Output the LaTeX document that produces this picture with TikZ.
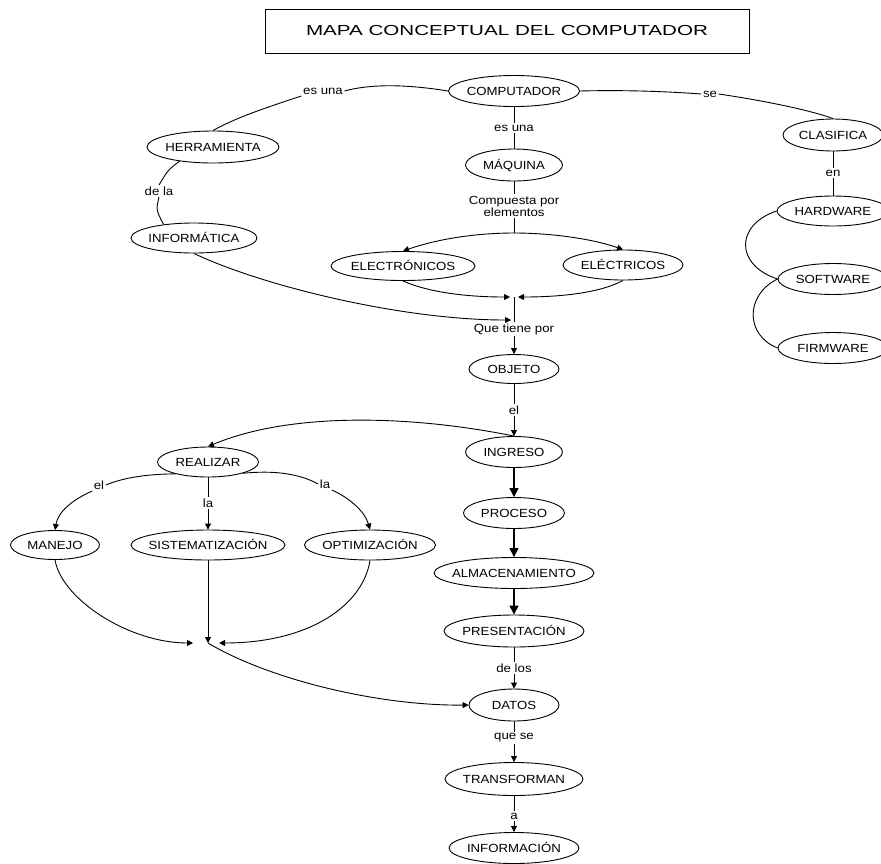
\documentclass[tikz,border=0pt]{standalone}
\usepackage{fontspec}
\setmainfont{Liberation Sans}
\newfontfamily\mapfont[FakeStretch=1.12]{Liberation Sans}
\newfontfamily\headfont[FakeStretch=1.42]{Liberation Sans}
\usetikzlibrary{shapes.geometric,arrows.meta}

\tikzset{
  concept/.style={ellipse, draw, line width=0.9pt, inner sep=0pt,
    minimum height=31pt, text height=8.3pt, text depth=0pt,
    font=\mapfont\fontsize{11.8}{13}\selectfont},
  link/.style={inner sep=1.5pt, align=center,
    font=\mapfont\fontsize{11.8}{12}\selectfont},
  conn/.style={line width=0.9pt},
  arr/.style={conn, -{Triangle[length=6pt,width=6pt]}},
  flow/.style={line width=1.3pt, -{Triangle[length=9pt,width=9pt]}},
}
% zero-width text so the ellipse size comes only from minimum width/height
\newcommand{\ctext}[1]{\makebox[0pt]{#1}}

\begin{document}
\begin{tikzpicture}[x=1pt,y=-1pt]
\useasboundingbox (0,0) rectangle (881,863);

% title
\node[draw, line width=0.9pt, minimum width=484pt, minimum height=44pt, inner sep=0pt]
  (title) at (507,31) {\headfont\fontsize{14.5}{16}\selectfont MAPA CONCEPTUAL DEL COMPUTADOR};

% concepts
\node[concept, minimum width=131pt] (comp)  at (514,91)  {\ctext{COMPUTADOR}};
\node[concept, minimum width=97pt, minimum height=32pt]  (maq)   at (514,165) {\ctext{MÁQUINA}};
\node[concept, minimum width=132pt, minimum height=32pt] (herr)  at (213,147) {\ctext{HERRAMIENTA}};
\node[concept, minimum width=126pt, minimum height=30pt] (info)  at (194,238) {\ctext{INFORMÁTICA}};
\node[concept, minimum width=100pt, minimum height=32pt] (clas)  at (833,135) {\ctext{CLASIFICA}};
\node[concept, minimum width=112pt, minimum height=30pt] (hard)  at (833,211) {\ctext{HARDWARE}};
\node[concept, minimum width=110pt] (soft)  at (833,279) {\ctext{SOFTWARE}};
\node[concept, minimum width=110pt] (firm)  at (833,348) {\ctext{FIRMWARE}};
\node[concept, minimum width=144pt, minimum height=29pt] (elec)  at (403,266) {\ctext{ELECTRÓNICOS}};
\node[concept, minimum width=120pt, minimum height=30pt] (elect) at (623,265) {\ctext{ELÉCTRICOS}};
\node[concept, minimum width=90pt, minimum height=29pt]  (obj)   at (514,369) {\ctext{OBJETO}};
\node[concept, minimum width=97pt]  (ing)   at (514,452) {\ctext{INGRESO}};
\node[concept, minimum width=101pt, minimum height=30pt] (real)  at (208,462) {\ctext{REALIZAR}};
\node[concept, minimum width=89pt, minimum height=29pt]  (man)   at (55,545)  {\ctext{MANEJO}};
\node[concept, minimum width=154pt, minimum height=30pt] (sist)  at (208,545) {\ctext{SISTEMATIZACIÓN}};
\node[concept, minimum width=131pt, minimum height=30pt] (opt)   at (370,545) {\ctext{OPTIMIZACIÓN}};
\node[concept, minimum width=101pt] (proc)  at (514,513) {\ctext{PROCESO}};
\node[concept, minimum width=160pt] (alm)   at (514,573) {\ctext{ALMACENAMIENTO}};
\node[concept, minimum width=140pt, minimum height=32pt] (pres)  at (514,631) {\ctext{PRESENTACIÓN}};
\node[concept, minimum width=90pt, minimum height=32pt]  (datos) at (514,705) {\ctext{DATOS}};
\node[concept, minimum width=138pt, minimum height=33pt] (trans) at (514,779) {\ctext{TRANSFORMAN}};
\node[concept, minimum width=130pt] (infor) at (514,848) {\ctext{INFORMACIÓN}};

% linking words
\node[link] (l1)  at (323,91)  {es una};
\node[link] (l2)  at (514,128) {es una};
\node[link] (l3)  at (159,191) {de la};
\node[link] (l4)  at (710,94)  {se};
\node[link] (l5)  at (833,173) {en};
\node[link] (l6)  at (514,206) {Compuesta por\\elementos};
\node[link] (l7)  at (514,329) {Que tiene por};
\node[link] (l8)  at (514,410) {el};
\node[link] (l9)  at (99,485)  {el};
\node[link] (l10) at (208,503) {la};
\node[link] (l11) at (325,484) {la};
\node[link] (l12) at (514,668) {de los};
\node[link] (l13) at (514,738) {que se};
\node[link] (l14) at (514,816) {a};

% junction points
\coordinate (split) at (514,233);
\coordinate (j1) at (514,297);
\coordinate (j2) at (514,320);
\coordinate (j3) at (208,643);

% computador - herramienta - informatica
\draw[conn] (comp.west) .. controls (405,84) and (370,84) .. (l1.east);
\draw[conn] (l1.south west) .. controls (265,108) and (235,118) .. (herr.north);
\draw[conn] (herr.203) .. controls (168,170) .. (l3.north);
\draw[conn] (l3.south) .. controls (156,210) .. (info.156);

% computador - maquina
\draw[conn] (comp) -- (l2);
\draw[conn] (l2) -- (maq);

% computador - clasifica - hardware/software/firmware
\draw[conn] (comp.east) .. controls (620,90) and (660,91) .. (l4.west);
\draw[conn] (l4.east) .. controls (760,100) and (810,110) .. (clas.north);
\draw[conn] (clas) -- (l5);
\draw[conn] (l5) -- (hard);
\draw[conn] (hard.west) .. controls (735,225) and (735,265) .. (soft.west);
\draw[conn] (soft.west) .. controls (745,295) and (745,335) .. (firm.west);

% maquina - elementos
\draw[conn] (maq) -- (l6);
\draw[conn] (l6) -- (split);
\draw[arr] (split) .. controls (480,233) and (440,238) .. (elec.north);
\draw[arr] (split) .. controls (548,233) and (590,238) .. (elect.north);
\draw[arr] (elec.south) .. controls (430,293) and (470,297) .. ([xshift=-4pt]j1);
\draw[arr] (elect.south) .. controls (600,293) and (560,297) .. ([xshift=4pt]j1);
\draw[arr] (info.south) .. controls (260,285) and (400,320) .. ([xshift=-3pt]j2);
\draw[conn] (j1) -- (l7);
\draw[arr] (l7) -- (obj);
\draw[conn] (obj) -- (l8);
\draw[arr] (l8) -- (ing);

% ingreso - realizar
\draw[arr] (ing.north) .. controls (410,415) and (290,412) .. (real.north);
\draw[conn] (real.200) .. controls (150,474) and (125,477) .. (l9.east);
\draw[arr] (l9.south west) .. controls (72,500) and (58,512) .. (man.north);
\draw[conn] (real) -- (l10);
\draw[arr] (l10) -- (sist);
\draw[conn] (real.-18) .. controls (275,470) and (300,474) .. (l11.west);
\draw[arr] (l11.south east) .. controls (350,498) and (365,512) .. (opt.north);
\draw[arr] (man.south) .. controls (62,600) and (130,643) .. ([xshift=-15pt]j3);
\draw[arr] (sist) -- (j3);
\draw[arr] (opt.south) .. controls (363,605) and (310,643) .. ([xshift=11pt]j3);
\draw[arr] (j3) .. controls (270,680) and (380,706) .. (datos.west);

% main sequence
\draw[flow] (ing) -- (proc);
\draw[flow] (proc) -- (alm);
\draw[flow] (alm) -- (pres);
\draw[conn] (pres) -- (l12);
\draw[arr] (l12) -- (datos);
\draw[conn] (datos) -- (l13);
\draw[arr] (l13) -- (trans);
\draw[conn] (trans) -- (l14);
\draw[arr] (l14) -- (infor);
\end{tikzpicture}
\end{document}
